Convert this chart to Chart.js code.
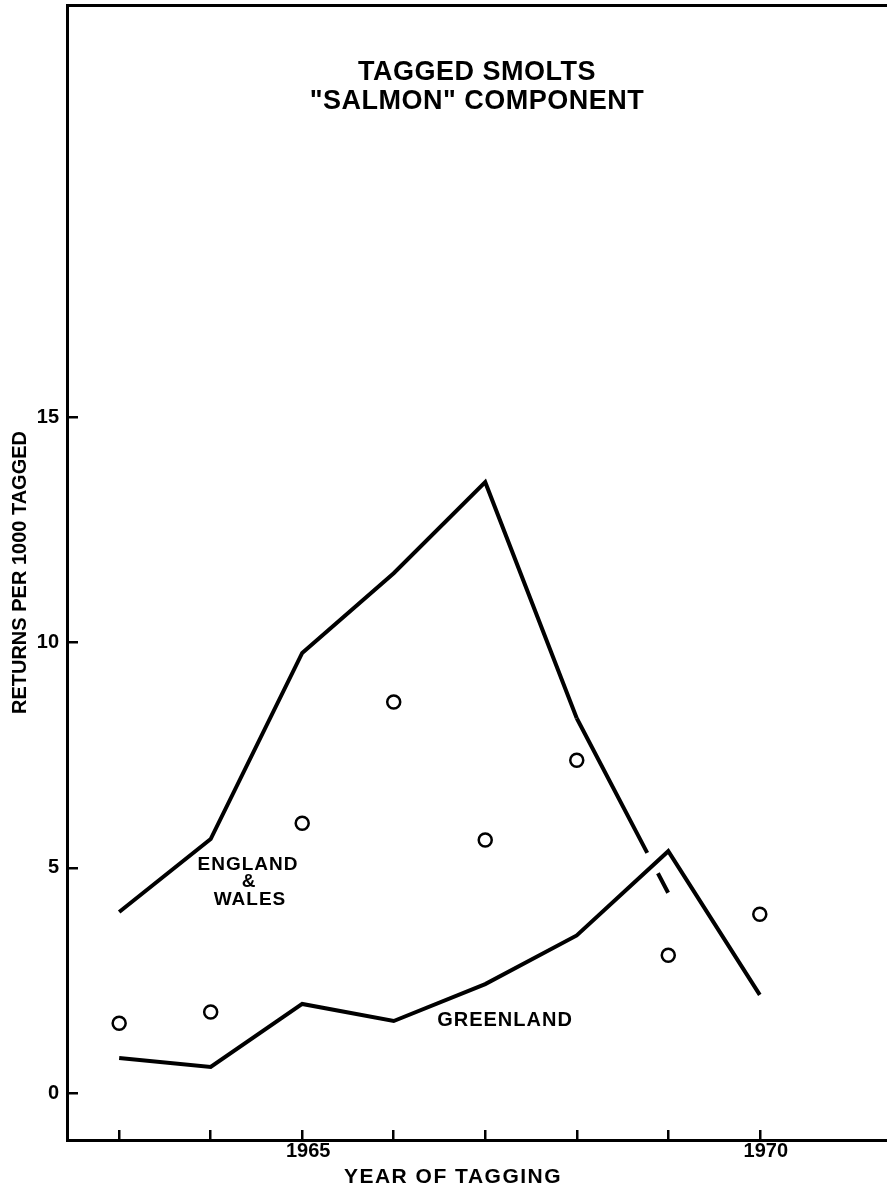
<!DOCTYPE html>
<html><head><meta charset="utf-8">
<script src="https://cdn.jsdelivr.net/npm/chart.js@4/dist/chart.umd.min.js"></script>
<style>html,body{margin:0;padding:0;background:#fff}canvas{display:block}</style>
</head><body>
<canvas id="c" width="887" height="1190"></canvas>
<script>
// ---- data ----
const years = [1963, 1964, 1965, 1966, 1967, 1968, 1969, 1970];
const englandWales = [4.02, 5.64, 9.77, 11.54, 13.56, 8.32, 4.44];       // 1968-69 segment partly dashed
const greenland    = [0.78, 0.58, 1.98, 1.60, 2.42, 3.50, 5.37, 2.18];
const openCircles  = [1.55, 1.80, 5.99, 8.68, 5.62, 7.39, 3.06, 3.97];
const xTickLabels  = ['1965', '1970'];
const yTickValues  = [0, 5, 10, 15];
const titleLines   = ['TAGGED SMOLTS', '"SALMON" COMPONENT'];
const seriesLabels = ['ENGLAND', '&', 'WALES', 'GREENLAND'];

const FONT = '"Liberation Sans", Arial, sans-serif';
const toXY = (vals) => vals.map((v, i) => ({x: years[i], y: v}));
const noPad = (s) => { s.paddingTop = 0; s.paddingBottom = 0; s.paddingLeft = 0; s.paddingRight = 0; };

const textPlugin = {
  id: 'texts',
  afterDraw(chart) {
    const ctx = chart.ctx;
    ctx.save();
    ctx.fillStyle = '#000';
    ctx.textAlign = 'center';
    ctx.textBaseline = 'middle';
    const mid = (chart.chartArea.left + chart.chartArea.right) / 2;
    ctx.font = 'bold 27px ' + FONT;
    try { ctx.letterSpacing = '0.5px'; } catch (e) {}
    ctx.fillText(titleLines[0], mid, 73);
    ctx.fillText(titleLines[1], mid, 102);
    // series labels
    ctx.font = 'bold 19px ' + FONT;
    try { ctx.letterSpacing = '1px'; } catch (e) {}
    ctx.fillText(seriesLabels[0], 248, 865);
    ctx.fillText(seriesLabels[1], 249, 882);
    ctx.fillText(seriesLabels[2], 250, 900);
    ctx.font = 'bold 20px ' + FONT;
    ctx.fillText(seriesLabels[3], 505, 1020);
    // x axis title
    ctx.font = 'bold 21px ' + FONT;
    try { ctx.letterSpacing = '1.5px'; } catch (e) {}
    ctx.fillText('YEAR OF TAGGING', 453, 1177);
    ctx.restore();
  }
};

new Chart(document.getElementById('c'), {
  type: 'line',
  data: {
    datasets: [
      {
        label: 'England & Wales',
        data: toXY(englandWales),
        borderColor: '#000', borderWidth: 4, pointRadius: 0, fill: false, tension: 0,
        borderJoinStyle: 'miter', borderCapStyle: 'butt',
        segment: { borderDash: (c) => c.p0DataIndex === 5 ? [152, 23, 22, 60] : undefined }
      },
      {
        label: 'Greenland',
        data: toXY(greenland),
        borderColor: '#000', borderWidth: 4, pointRadius: 0, fill: false, tension: 0,
        borderJoinStyle: 'miter', borderCapStyle: 'butt'
      },
      {
        label: 'Returns',
        data: toXY(openCircles),
        showLine: false, pointRadius: 6.5, pointBorderWidth: 2.5,
        pointBackgroundColor: '#fff', pointBorderColor: '#000'
      }
    ]
  },
  options: {
    responsive: false, animation: false, devicePixelRatio: 1,
    layout: { autoPadding: false, padding: { top: 5, left: 0, right: 0, bottom: 0 } },
    plugins: { legend: { display: false }, tooltip: { enabled: false } },
    scales: {
      x: {
        type: 'linear', position: 'bottom', min: 1962.43, max: 1971.39,
        afterBuildTicks: (s) => { s.ticks = years.map(v => ({value: v})); },
        afterFit: (s) => { s.height = 50; noPad(s); },
        border: { display: true, color: '#000', width: 3 },
        grid: { drawOnChartArea: false, drawTicks: true, tickLength: -10, color: '#000', lineWidth: 2.5 },
        ticks: {
          padding: 9, labelOffset: 6, color: '#000', font: { family: FONT, size: 20, weight: 'bold' },
          maxRotation: 0, autoSkip: false,
          callback: (v) => xTickLabels.includes(String(v)) ? String(v) : ''
        }
      },
      x2: {
        type: 'linear', position: 'top', min: 1962.43, max: 1971.39,
        afterFit: (s) => { s.height = 0; noPad(s); },
        border: { display: true, color: '#000', width: 3 },
        grid: { display: false }, ticks: { display: false }
      },
      y: {
        type: 'linear', position: 'left', min: -1.04, max: 24.15,
        afterBuildTicks: (s) => { s.ticks = yTickValues.map(v => ({value: v})); },
        afterFit: (s) => { s.width = 67; noPad(s); },
        border: { display: true, color: '#000', width: 3 },
        grid: { drawOnChartArea: false, drawTicks: true, tickLength: -11, color: '#000', lineWidth: 2.5 },
        ticks: { padding: 19, color: '#000', font: { family: FONT, size: 20, weight: 'bold' } },
        title: {
          display: true, text: 'RETURNS PER 1000 TAGGED', color: '#000',
          font: { family: FONT, size: 20, weight: 'bold' }, padding: { top: 8, bottom: 0 }
        }
      }
    }
  },
  plugins: [textPlugin]
});
</script>
</body></html>
